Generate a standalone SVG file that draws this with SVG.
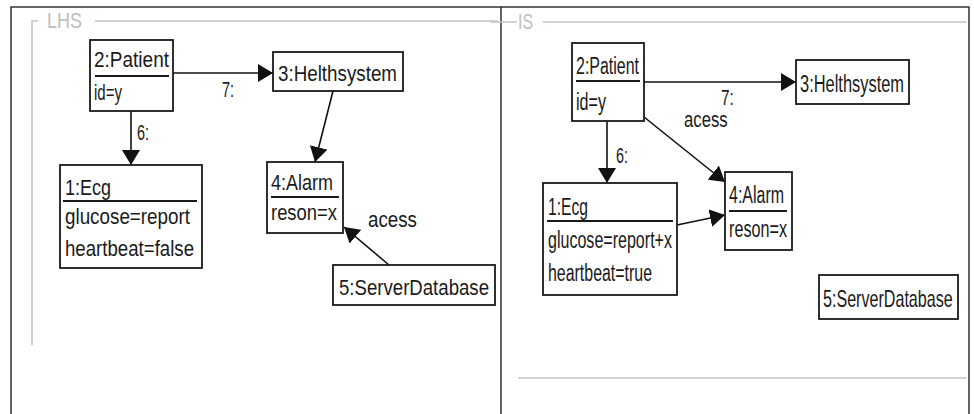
<svg xmlns="http://www.w3.org/2000/svg" width="974" height="414" viewBox="0 0 974 414">
<style>
.bg{fill:#fff}
.border{stroke:#333;stroke-width:1.5;fill:none}
.frame{stroke:#c4c4c4;stroke-width:1.6;fill:none}
.ftxt{font-family:"Liberation Sans",Arial,sans-serif;font-size:22px;fill:#bdbdbd}
.box{fill:#fff;stroke:#1a1a1a;stroke-width:1.8}
.ul{stroke:#1a1a1a;stroke-width:2}
.t{font-family:"Liberation Sans",Arial,sans-serif;font-size:22px;fill:#1a1a1a}
.r .t{font-size:23px}
.lbl{font-family:"Liberation Sans",Arial,sans-serif;font-size:22px;fill:#1a1a1a}
.conn line{stroke:#111;stroke-width:1.6}
</style>
<defs>
<marker id="ah" markerUnits="userSpaceOnUse" markerWidth="15" markerHeight="18" refX="15" refY="9" orient="auto">
<path d="M0,0 L15,9 L0,18 z" fill="#111"/>
</marker>
</defs>
<rect class="bg" x="0" y="0" width="974" height="414"/>
<g id="borders">
<path class="border" d="M11,414 V7 H969 V414 M501,7 V414"/>
</g>
<g id="frame-lhs">
<path class="frame" d="M38,21 H32 V345 M95,21 H498"/>
<text class="ftxt" x="47" y="28" textLength="35" lengthAdjust="spacingAndGlyphs">LHS</text>
</g>
<g id="frame-is">
<path class="frame" d="M490,22 H517 M543,22 H966 M518,378 H966"/>
<text class="ftxt" x="518" y="29" textLength="15" lengthAdjust="spacingAndGlyphs">IS</text>
</g>
<g id="connectors" class="conn">
<line x1="173" y1="73" x2="273" y2="73" marker-end="url(#ah)"/>
<line x1="131" y1="111" x2="131" y2="165" marker-end="url(#ah)"/>
<line x1="333" y1="91" x2="315" y2="162" marker-end="url(#ah)"/>
<line x1="389" y1="265" x2="344" y2="227" marker-end="url(#ah)"/>
<line x1="644" y1="82" x2="796" y2="82" marker-end="url(#ah)"/>
<line x1="607" y1="121" x2="607" y2="183" marker-end="url(#ah)"/>
<line x1="644" y1="117" x2="725" y2="182" marker-end="url(#ah)"/>
<line x1="677" y1="225" x2="725" y2="215" marker-end="url(#ah)"/>
</g>
<g id="labels">
<text class="lbl" x="222" y="97" textLength="12" lengthAdjust="spacingAndGlyphs">7:</text>
<text class="lbl" x="137" y="140" textLength="12" lengthAdjust="spacingAndGlyphs">6:</text>
<text class="lbl" x="368" y="227" textLength="49" lengthAdjust="spacingAndGlyphs">acess</text>
<text class="lbl" transform="translate(721,105) scale(0.7,1)">7:</text>
<text class="lbl" transform="translate(684,127) scale(0.76,1)">acess</text>
<text class="lbl" x="616" y="163" textLength="12" lengthAdjust="spacingAndGlyphs">6:</text>
</g>
<g id="lhs-patient">
<rect class="box" x="90" y="40" width="83" height="71"/>
<text class="t" x="94" y="67" textLength="75" lengthAdjust="spacingAndGlyphs">2:Patient</text>
<line class="ul" x1="95" y1="76" x2="169" y2="76"/>
<text class="t" x="94" y="100" textLength="28" lengthAdjust="spacingAndGlyphs">id=y</text>
</g>
<g id="lhs-helthsystem">
<rect class="box" x="273" y="52" width="130" height="39"/>
<text class="t" x="278" y="81" textLength="119" lengthAdjust="spacingAndGlyphs">3:Helthsystem</text>
</g>
<g id="lhs-ecg">
<rect class="box" x="60" y="165" width="142" height="103"/>
<text class="t" x="65" y="195" textLength="46" lengthAdjust="spacingAndGlyphs">1:Ecg</text>
<line class="ul" x1="63" y1="201" x2="197" y2="201"/>
<text class="t" x="65" y="224" textLength="125" lengthAdjust="spacingAndGlyphs">glucose=report</text>
<text class="t" x="65" y="256" textLength="129" lengthAdjust="spacingAndGlyphs">heartbeat=false</text>
</g>
<g id="lhs-alarm">
<rect class="box" x="267" y="162" width="76" height="71"/>
<text class="t" x="271" y="190" textLength="62" lengthAdjust="spacingAndGlyphs">4:Alarm</text>
<line class="ul" x1="271" y1="197" x2="339" y2="197"/>
<text class="t" x="271" y="220" textLength="66" lengthAdjust="spacingAndGlyphs">reson=x</text>
</g>
<g id="lhs-serverdatabase">
<rect class="box" x="333" y="265" width="162" height="40"/>
<text class="t" x="339" y="295" textLength="150" lengthAdjust="spacingAndGlyphs">5:ServerDatabase</text>
</g>
<g class="r">
<g id="is-patient">
<rect class="box" x="572" y="43" width="72" height="78"/>
<text class="t" x="576" y="74" textLength="63" lengthAdjust="spacingAndGlyphs">2:Patient</text>
<line class="ul" x1="576" y1="81" x2="640" y2="81"/>
<text class="t" x="576" y="110" textLength="30" lengthAdjust="spacingAndGlyphs">id=y</text>
</g>
<g id="is-helthsystem">
<rect class="box" x="796" y="60" width="113" height="44"/>
<text class="t" x="800" y="92" textLength="104" lengthAdjust="spacingAndGlyphs">3:Helthsystem</text>
</g>
<g id="is-ecg">
<rect class="box" x="543" y="183" width="134" height="112"/>
<text class="t" x="548" y="215" textLength="40" lengthAdjust="spacingAndGlyphs">1:Ecg</text>
<line class="ul" x1="547" y1="221" x2="673" y2="221"/>
<text class="t" x="548" y="248" textLength="124" lengthAdjust="spacingAndGlyphs">glucose=report+x</text>
<text class="t" x="548" y="281" textLength="104" lengthAdjust="spacingAndGlyphs">heartbeat=true</text>
</g>
<g id="is-alarm">
<rect class="box" x="725" y="172" width="67" height="78"/>
<text class="t" x="729" y="203" textLength="55" lengthAdjust="spacingAndGlyphs">4:Alarm</text>
<line class="ul" x1="729" y1="211" x2="787" y2="211"/>
<text class="t" x="729" y="237" textLength="58" lengthAdjust="spacingAndGlyphs">reson=x</text>
</g>
<g id="is-serverdatabase">
<rect class="box" x="819" y="275" width="139" height="44"/>
<text class="t" transform="translate(823,307) scale(0.7,1)" x="0" y="0">5:ServerDatabase</text>
</g>
</g>
</svg>
